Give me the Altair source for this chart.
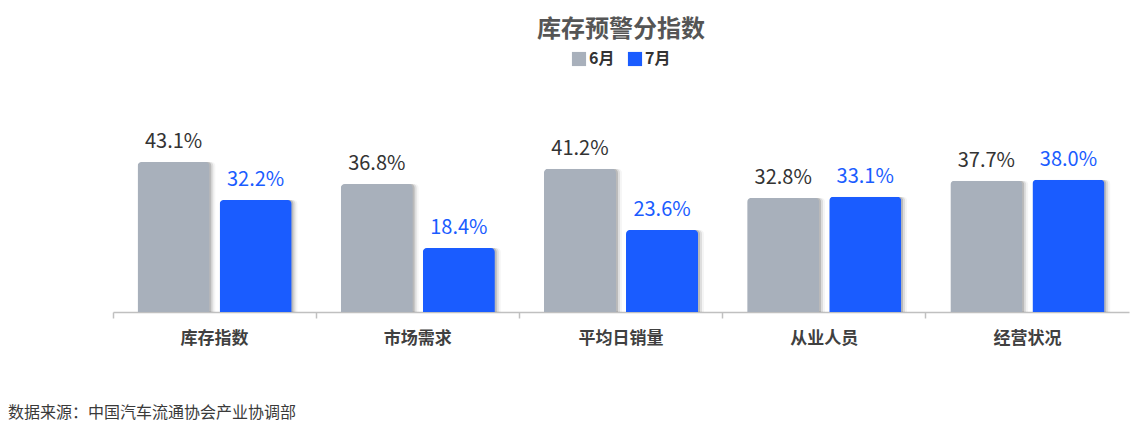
import altair as alt
import pandas as pd

categories = ["库存指数", "市场需求", "平均日销量", "从业人员", "经营状况"]
series = ["6月", "7月"]
june = [43.1, 36.8, 41.2, 32.8, 37.7]
july = [32.2, 18.4, 23.6, 33.1, 38.0]
source_note = "数据来源：中国汽车流通协会产业协调部"

rows = []
for c, a, b in zip(categories, june, july):
    rows.append({"cat": c, "month": "6月", "v": a, "label": f"{a:.1f}%"})
    rows.append({"cat": c, "month": "7月", "v": b, "label": f"{b:.1f}%"})
df = pd.DataFrame(rows)

FONT = "Noto Sans CJK SC"
W, H = 1016, 232
STEP = W / len(categories)

x = alt.X("cat:N", sort=categories, title=None,
          scale=alt.Scale(paddingInner=0, paddingOuter=0),
          axis=alt.Axis(labelAngle=0, labelFont=FONT, labelFontSize=17,
                        labelFontWeight="bold", labelColor="#404040",
                        domainColor="#c0c0c0", domainWidth=1.5,
                        tickColor="#c0c0c0", tickWidth=1.5, tickSize=6,
                        bandPosition=0, labelPadding=12, grid=False))


def xo(shift=0):
    return alt.XOffset("month:N", sort=series,
                       scale=alt.Scale(type="band", paddingInner=0.122, paddingOuter=0.299,
                                       range=[shift, STEP + shift]))


y = alt.Y("v:Q", scale=alt.Scale(domain=[0, 66.7]), axis=None)
color = alt.Color("month:N", sort=series,
                  scale=alt.Scale(domain=series, range=["#a8b0bb", "#1a5cff"]),
                  legend=alt.Legend(title=None, orient="none", legendX=458, legendY=-29,
                                    direction="horizontal", symbolType="square",
                                    symbolSize=200, symbolStrokeWidth=0,
                                    labelFont=FONT, labelFontSize=16,
                                    labelFontWeight="bold", labelColor="#333333",
                                    labelOffset=2, columnPadding=12))

base = alt.Chart(df)

shadows = [
    base.mark_bar(color="#000000", opacity=op,
                  cornerRadiusTopLeft=4, cornerRadiusTopRight=4)
    .encode(x=x, xOffset=xo(dx), y=y)
    for dx, op in [(2, 0.16), (4, 0.09), (6, 0.04)]
]

bars = base.mark_bar(cornerRadiusTopLeft=4, cornerRadiusTopRight=4).encode(
    x=x, xOffset=xo(0), y=y, color=color)

labels = base.mark_text(baseline="bottom", dy=-10, font=FONT, fontSize=20).encode(
    x=x, xOffset=xo(0), y=y, text="label:N",
    color=alt.Color("month:N", scale=alt.Scale(domain=series, range=["#333333", "#1a5cff"]),
                    legend=None))

note = alt.Chart(pd.DataFrame({"t": [source_note]})).mark_text(
    align="left", baseline="middle", font=FONT, fontSize=16, color="#3a3a3a"
).encode(x=alt.value(-105), y=alt.value(333), text="t:N")

chart = alt.layer(*shadows, bars, labels, note).resolve_scale(
    color="independent", xOffset="independent").properties(
    width=W, height=H,
    title=alt.TitleParams("库存预警分指数", anchor="middle", font=FONT, fontSize=24,
                          fontWeight="bold", color="#555555", offset=9),
    autosize=alt.AutoSizeParams(type="none"),
    padding={"left": 105, "top": 72, "right": 5, "bottom": 116},
    background="white",
).configure_view(stroke=None)

chart.save("out.html", embed_options={"renderer": "svg", "actions": False})
